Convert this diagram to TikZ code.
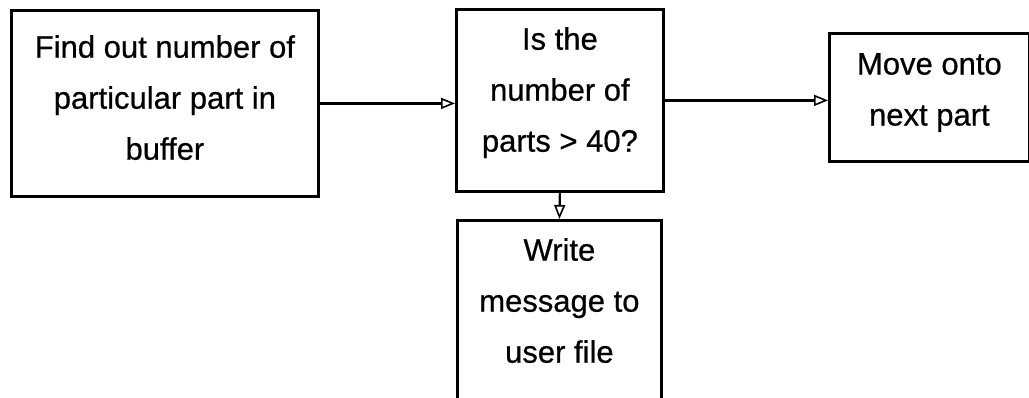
\documentclass[tikz,border=0pt]{standalone}
\usepackage{fontspec}
\setmainfont{Liberation Sans}[FakeBold=0.6]
\usetikzlibrary{arrows.meta}
\begin{document}
\begin{tikzpicture}[x=1pt,y=-1pt,
  box/.style={draw=black, line width=2.8pt, inner sep=0pt, anchor=north west},
  txt/.style={align=center, inner sep=0pt, anchor=north, font=\fontsize{31}{51}\selectfont},
  conn/.style={line width=2.2pt, -{Triangle[open, length=14pt, width=11pt, line width=1.6pt]}}]
\clip (0,0) rectangle (1029,397);
\fill[white] (0,0) rectangle (1029,397);
\node[box, minimum width=307pt, minimum height=186pt] (A) at (10,9) {};
\node[box, minimum width=207pt, minimum height=182pt] (B) at (455,8) {};
\node[box, minimum width=200pt, minimum height=128pt] (C) at (828,32) {};
\node[box, minimum width=204pt, minimum height=220pt] (D) at (456,219) {};
\node[txt] (tA) at ([yshift=-26pt]A.north) {Find out number of\\particular part in\\buffer};
\node[txt] (tB) at ([yshift=-19pt]B.north) {Is the\\number of\\parts > 40?};
\node[txt] (tC) at ([yshift=-21pt]C.north) {Move onto\\next part};
\node[txt] (tD) at ([yshift=-19pt]D.north) {Write\\message to\\user file};
\draw[conn] (A.east) -- (A.east -| B.west);
\draw[conn] (B.east) -- (B.east -| C.west);
\draw[conn] (B.south) -- (D.north);
\end{tikzpicture}
\end{document}
